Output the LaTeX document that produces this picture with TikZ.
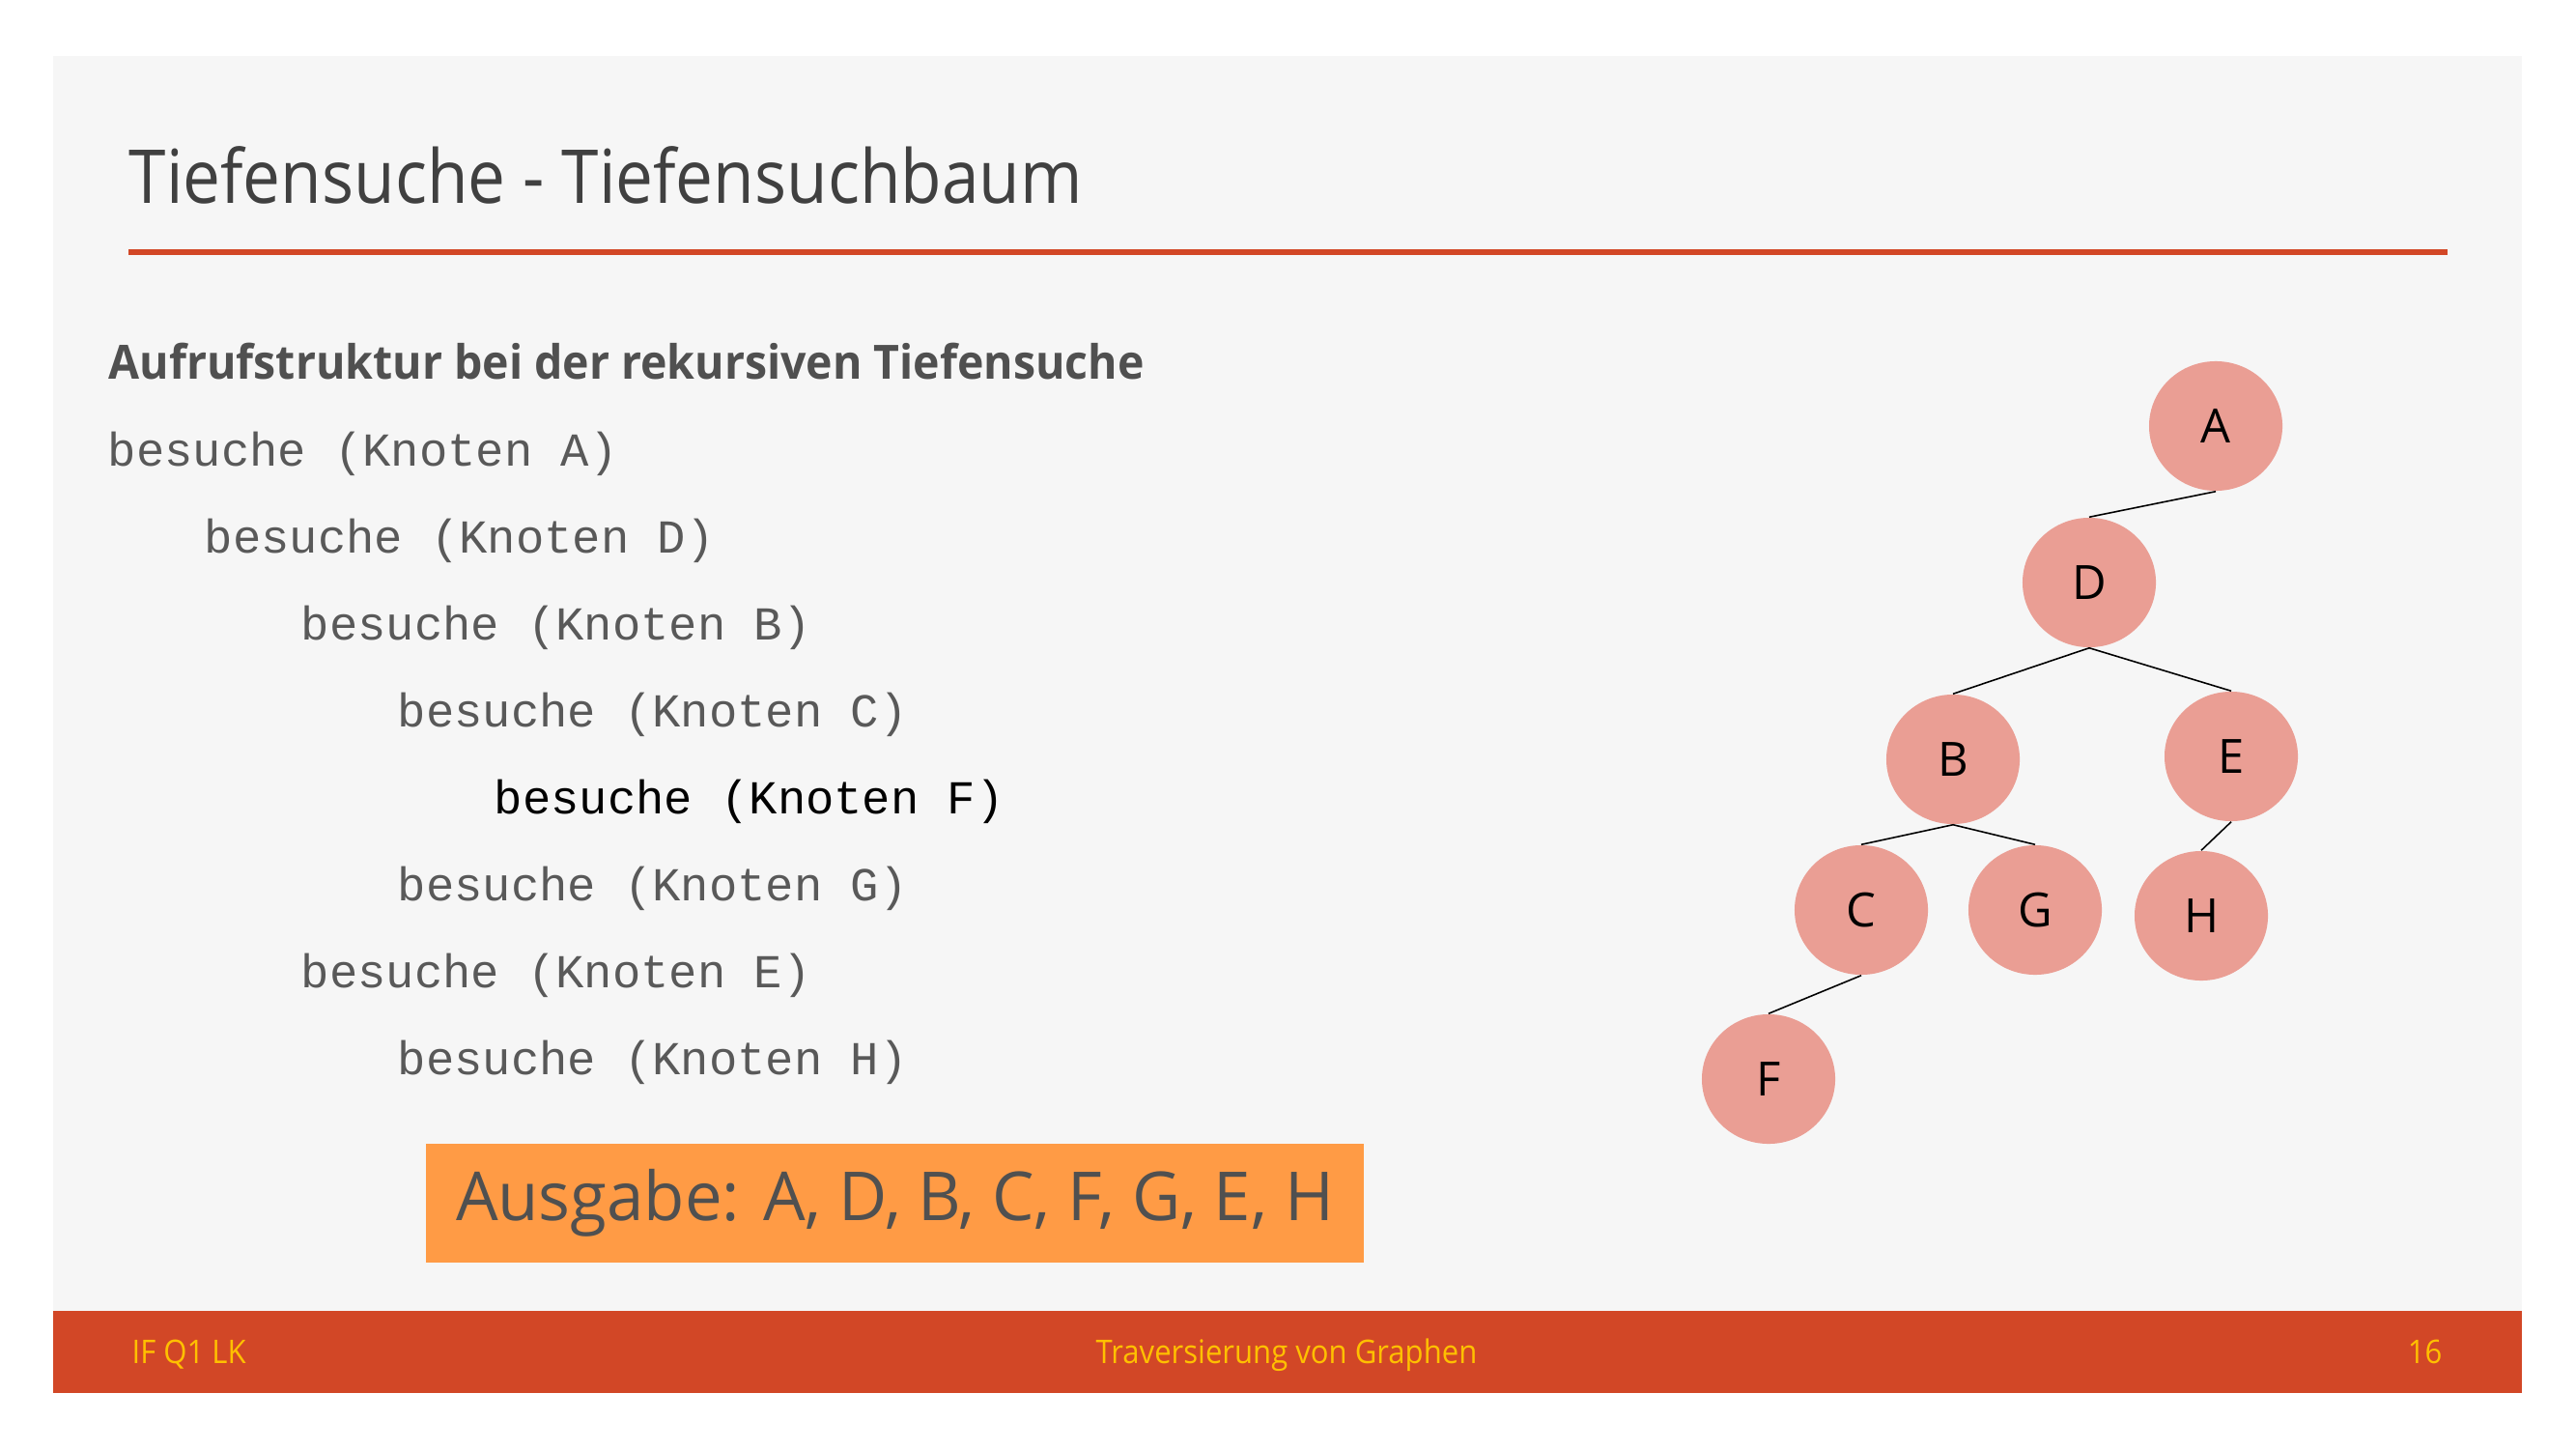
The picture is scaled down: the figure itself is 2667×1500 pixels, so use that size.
\documentclass[tikz,border=0pt]{standalone}
\usepackage{fontspec}
\setmainfont{Open Sans}
\setmonofont{Liberation Mono}
\newfontfamily\headfont{Open Sans}[FakeStretch=0.9]
\newfontfamily\subfont{Open Sans}[FakeStretch=0.95]
\newfontfamily\outfont{Open Sans}[FakeStretch=0.985]
\newfontfamily\footfont{Open Sans}[FakeStretch=0.92]
\usetikzlibrary{shapes.geometric}
\definecolor{slidebg}{HTML}{F6F6F6}
\definecolor{accent}{HTML}{D24726}
\definecolor{gold}{HTML}{FFC000}
\definecolor{outfill}{HTML}{FF9B45}
\definecolor{nodefill}{HTML}{EA9E94}
\definecolor{titleink}{HTML}{404040}
\definecolor{ink}{HTML}{505050}
\definecolor{codeink}{HTML}{595959}
\begin{document}
\begin{tikzpicture}[x=0.01cm,y=-0.01cm,
  codeline/.style={anchor=base west, inner sep=0, font=\fontsize{13.9}{16}\selectfont\ttfamily, text=codeink},
  vertex/.style={ellipse, fill=nodefill, minimum width=1.38cm, minimum height=1.34cm, inner sep=0,
    font=\fontsize{13.9}{16}\selectfont, text=black},
  treeedge/.style={draw=black, line width=0.45pt},
  foot/.style={inner sep=0, font=\footfont\fontsize{9.6}{11}\selectfont, text=gold}]
\useasboundingbox (0,0) rectangle (2667,1500);
% slide background and footer bar
\fill[white] (0,0) rectangle (2667,1500);
\fill[slidebg] (55,58) rectangle (2611,1442);
\fill[accent] (55,1357) rectangle (2611,1442);
% heading
\node[anchor=base west, inner sep=0, font=\headfont\fontsize{21.9}{26}\selectfont, text=titleink] (title) at (133,210) {Tiefensuche - Tiefensuchbaum};
\fill[accent] (133,258) rectangle (2534,264);
\node[anchor=base west, inner sep=0, font=\subfont\fontsize{13.9}{16}\selectfont\bfseries, text=ink] (sub) at (112,392) {Aufrufstruktur bei der rekursiven Tiefensuche};
% recursive call structure
\node[codeline] (l1) at (111,482) {besuche (Knoten A)};
\node[codeline] (l2) at (211,572) {besuche (Knoten D)};
\node[codeline] (l3) at (311,662) {besuche (Knoten B)};
\node[codeline] (l4) at (411,752) {besuche (Knoten C)};
\node[codeline, text=black] (l5) at (511,842) {besuche (Knoten F)};
\node[codeline] (l6) at (411,932) {besuche (Knoten G)};
\node[codeline] (l7) at (311,1022) {besuche (Knoten E)};
\node[codeline] (l8) at (411,1112) {besuche (Knoten H)};
% output box
\node[fill=outfill, minimum width=9.71cm, minimum height=1.23cm, inner sep=0,
  font=\outfont\fontsize{19.9}{24}\selectfont, text=ink] (out) at (926.5,1245.5) {Ausgabe: A, D, B, C, F, G, E, H};
% depth-first search tree
\node[vertex] (A) at (2294,441) {A};
\node[vertex] (D) at (2163,603) {D};
\node[vertex] (B) at (2022,786) {B};
\node[vertex] (E) at (2310,783) {E};
\node[vertex] (C) at (1927,942) {C};
\node[vertex] (G) at (2107,942) {G};
\node[vertex] (H) at (2279,948) {H};
\node[vertex] (F) at (1831,1117) {F};
\draw[treeedge] (A.south) -- (D.north);
\draw[treeedge] (D.south) -- (B.north);
\draw[treeedge] (D.south) -- (E.north);
\draw[treeedge] (B.south) -- (C.north);
\draw[treeedge] (B.south) -- (G.north);
\draw[treeedge] (E.south) -- (H.north);
\draw[treeedge] (C.south) -- (F.north);
% footer
\node[foot, anchor=base west] (f1) at (136,1411) {IF Q1 LK};
\node[foot, anchor=base] (f2) at (1332,1411) {Traversierung von Graphen};
\node[foot, anchor=base east] (f3) at (2529,1411) {16};
\end{tikzpicture}
\end{document}
